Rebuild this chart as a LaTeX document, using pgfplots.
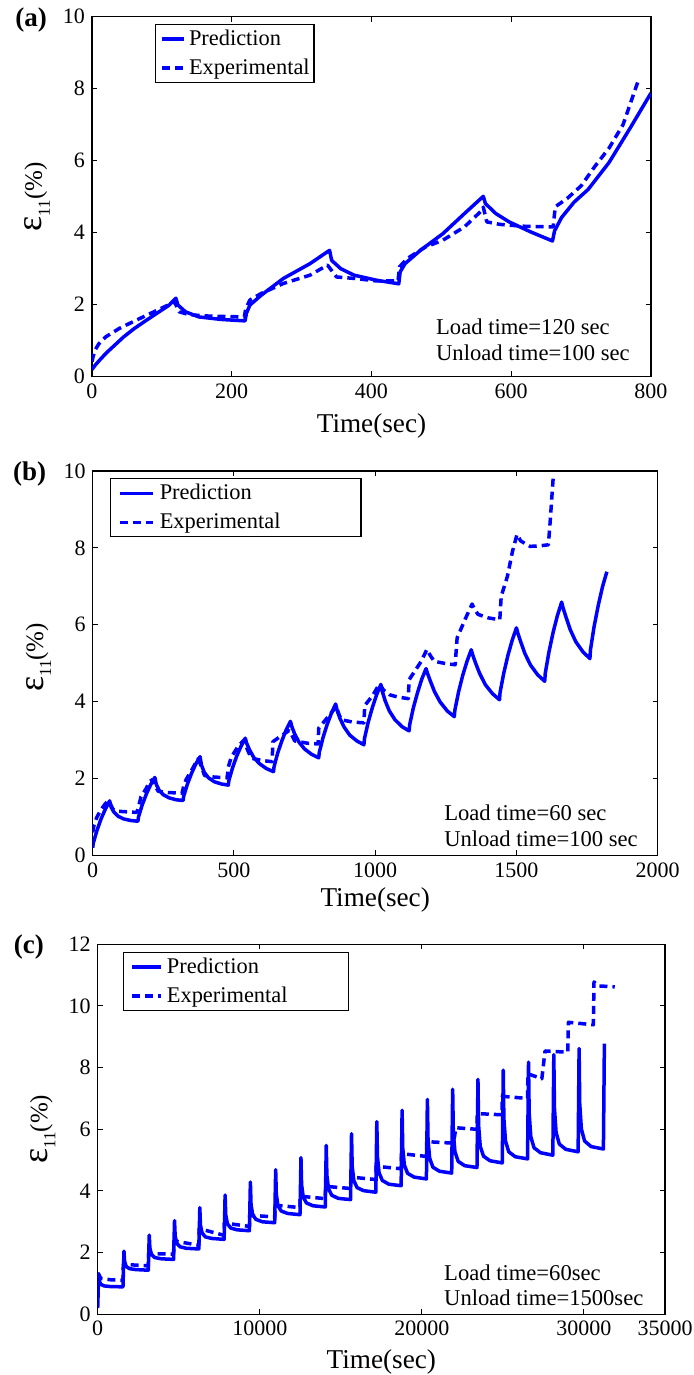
\documentclass[border=0pt]{standalone}
\usepackage{fontspec}
\setmainfont{Liberation Serif}
\usepackage{pgfplots}
\pgfplotsset{compat=1.18}
\definecolor{mblue}{RGB}{0,0,255}
\newcommand{\ylab}{{\fontsize{18}{18}\selectfont ε}\raisebox{-4pt}{\fontsize{8.5}{9}\selectfont 11}{\fontsize{12.5}{14}\selectfont(\%)}}
\tikzset{
  annot/.style={anchor=base west, inner sep=0pt, font=\fontsize{11.3}{13}\selectfont},
  pred/.style={mblue, line width=1.75pt, line join=round},
  expt/.style={mblue, line width=1.75pt, line join=round, dash pattern=on 4pt off 2.5pt},
}
\pgfplotsset{
  panel/.style={
    scale only axis, anchor=south west,
    axis line style={line width=0.6pt, black},
    tick align=inside,
    major tick length=2.6pt,
    every tick/.style={black, line width=0.5pt},
    tick label style={font=\fontsize{11}{13}\selectfont},
    /pgf/number format/assume math mode=true,
    /pgf/number format/1000 sep={},
    scaled x ticks=false, scaled y ticks=false,
    label style={font=\fontsize{13.6}{16}\selectfont},
    legend cell align=left,
    legend style={anchor=north west, draw=black, line width=0.6pt, fill=white,
      inner ysep=0pt, font=\fontsize{11.2}{13}\selectfont,
      nodes={inner sep=0pt, text height=10.4pt, text depth=4.1pt}},
  },
}
\begin{document}
\begin{tikzpicture}
\path[use as bounding box] (0pt,0pt) rectangle (347pt,687.5pt);

% ---------------- (a) ----------------
\begin{axis}[panel, at={(46pt,499.15pt)}, width=279.5pt, height=180pt,
  xmin=0, xmax=800, ymin=0, ymax=10,
  xtick={0,200,400,600,800}, ytick={0,2,4,6,8,10},
  xlabel={Time(sec)}, ylabel={\ylab},
  xlabel style={at={(axis description cs:0.5,0)}, anchor=center, yshift=-24.5pt},
  ylabel style={at={(axis description cs:-0.098,0.5)}, anchor=center},
  legend style={at={(axis description cs:0.1127,0.9797)}, inner xsep=2.15pt, column sep=1.8pt},
  legend image code/.code={\draw[#1] (0pt,0pt) -- (11pt,0pt);},
]
\addplot[pred] coordinates {
(0,0.2)(5,0.33)(10,0.44)(20,0.65)(30,0.83)(45,1.1)(60,1.33)(75,1.53)(95,1.79)(110,1.98)(120,2.18)
(123,1.99)(134,1.8)(153,1.66)(185,1.59)(219,1.55)
(221,1.76)(226,1.99)(242,2.26)(274,2.73)(312,3.14)(340,3.51)
(343,3.23)(356,3.0)(375,2.82)(407,2.68)(439,2.58)
(441,2.91)(448,3.14)(470,3.51)(502,3.97)(533,4.53)(560,5.01)
(563,4.81)(578,4.53)(597,4.3)(628,4.02)(659,3.77)
(662,4.05)(672,4.42)(690,4.85)(710,5.2)(740,5.95)(770,6.9)(800,7.88)
};
\addlegendentry{Prediction}
\addplot[expt] coordinates {
(0,0.42)(1.5,0.55)(4.4,0.74)(10,0.92)(20,1.11)(39,1.34)(58,1.52)(84,1.76)(109,1.99)(118,2.08)
(125,1.8)(140,1.72)(170,1.68)(218,1.66)
(220,1.89)(226,2.13)(242,2.31)(274,2.59)(312,2.82)(337,3.1)
(350,2.77)(375,2.73)(407,2.66)(438,2.66)
(440,3.05)(451,3.28)(477,3.6)(502,3.79)(533,4.16)(558,4.62)(560,4.71)
(565,4.3)(584,4.23)(616,4.18)(660,4.16)
(663,4.72)(680,4.95)(700,5.3)(720,5.85)(740,6.35)(760,7.0)(781,8.18)
};
\addlegendentry{Experimental}
\node[annot] at (axis cs:492,1.158) {Load time=120 sec};
\node[annot] at (axis cs:492,0.436) {Unload time=100 sec};
\end{axis}

% ---------------- (b) ----------------
\begin{axis}[panel, at={(46.35pt,259.75pt)}, width=282.5pt, height=192.25pt,
  xmin=0, xmax=2000, ymin=0, ymax=10,
  xtick={0,500,1000,1500,2000}, ytick={0,2,4,6,8,10},
  xlabel={Time(sec)}, ylabel={\ylab},
  xlabel style={at={(axis description cs:0.5,0)}, anchor=center, yshift=-22.2pt},
  ylabel style={at={(axis description cs:-0.096,0.515)}, anchor=center},
  legend style={at={(axis description cs:0.0306,0.981)}, inner xsep=3.65pt, column sep=2.7pt},
  legend image code/.code={\draw[#1] (0pt,0pt) -- (16.5pt,0pt);},
]
\addplot[pred] coordinates {
(0,0.2)(2,0.32)(15,0.65)(30,0.96)(45,1.21)(60,1.42)
(65,1.26)(75,1.13)(90,1.02)(110,0.95)(135,0.91)(160,0.89)
(162,1.00)(175,1.31)(190,1.60)(205,1.84)(220,2.03)
(225,1.85)(235,1.70)(250,1.58)(270,1.50)(295,1.45)(320,1.43)
(322,1.54)(335,1.85)(350,2.14)(365,2.38)(380,2.57)
(385,2.35)(395,2.16)(410,2.02)(430,1.92)(455,1.86)(480,1.83)
(482,1.95)(495,2.28)(510,2.59)(525,2.84)(540,3.05)
(545,2.92)(555,2.75)(570,2.55)(590,2.39)(615,2.26)(640,2.18)
(642,2.31)(655,2.67)(670,2.99)(685,3.27)(700,3.49)
(705,3.35)(715,3.16)(730,2.95)(750,2.77)(775,2.63)(800,2.54)
(802,2.68)(815,3.06)(830,3.41)(845,3.70)(860,3.94)
(865,3.78)(875,3.57)(890,3.34)(910,3.13)(935,2.98)(960,2.88)
(962,3.04)(975,3.46)(990,3.85)(1005,4.18)(1020,4.45)
(1025,4.27)(1035,4.03)(1050,3.76)(1070,3.53)(1095,3.35)(1120,3.24)
(1122,3.40)(1135,3.84)(1150,4.24)(1165,4.59)(1180,4.86)
(1185,4.74)(1195,4.54)(1210,4.26)(1230,3.99)(1255,3.76)(1280,3.61)
(1282,3.78)(1295,4.25)(1310,4.69)(1325,5.05)(1340,5.35)
(1345,5.22)(1355,5.01)(1370,4.73)(1390,4.44)(1415,4.21)(1440,4.05)
(1442,4.24)(1455,4.74)(1470,5.21)(1485,5.60)(1500,5.92)
(1505,5.78)(1515,5.56)(1530,5.25)(1550,4.95)(1575,4.70)(1600,4.53)
(1602,4.74)(1615,5.29)(1630,5.81)(1645,6.24)(1660,6.59)
(1665,6.44)(1675,6.21)(1690,5.88)(1710,5.56)(1735,5.30)(1760,5.12)
(1762,5.35)(1775,5.96)(1790,6.52)(1805,7.00)(1820,7.38)
};
\addlegendentry{\makebox[97pt][l]{Prediction}}
\addplot[expt] coordinates {
(0,0.6)(5,0.8)(15,1.0)(30,1.2)(45,1.35)(55,1.42)(62,1.35)(72,1.2)(90,1.15)(155,1.12)
(160,1.2)(171,1.53)(190,1.75)(201,1.92)(213,1.98)(222,1.8)(232,1.67)(260,1.64)(316,1.62)
(322,1.8)(331,1.98)(349,2.2)(372,2.51)(380,2.4)(396,2.08)(430,2.04)(476,2.02)
(480,2.3)(490,2.55)(514,2.83)(535,3.0)(545,2.8)(561,2.53)(600,2.47)(635,2.44)
(638,2.96)(665,3.1)(695,3.25)(700,3.2)(715,2.98)(760,2.92)(798,2.9)
(800,3.31)(830,3.58)(863,3.88)(870,3.7)(880,3.53)(920,3.47)(960,3.45)
(963,3.9)(990,4.15)(1015,4.46)(1030,4.3)(1051,4.18)(1080,4.12)(1117,4.08)
(1120,4.57)(1163,5.05)(1183,5.36)(1195,5.2)(1209,5.05)(1250,4.99)(1283,4.96)
(1290,5.66)(1323,6.22)(1343,6.54)(1352,6.4)(1364,6.27)(1400,6.18)(1441,6.13)
(1446,6.74)(1468,7.26)(1486,7.91)(1502,8.35)(1515,8.18)(1548,8.04)(1580,8.05)(1613,8.08)
(1619,8.65)(1630,9.82)
};
\addlegendentry{\makebox[97pt][l]{Experimental}}
\node[annot] at (axis cs:1243,0.905) {Load time=60 sec};
\node[annot] at (axis cs:1243,0.229) {Unload time=100 sec};
\end{axis}

% ---------------- (c) ----------------
\begin{axis}[panel, at={(48.85pt,30.35pt)}, width=283.65pt, height=185pt,
  xmin=0, xmax=35000, ymin=0, ymax=12,
  xtick={0,10000,20000,30000,35000}, ytick={0,2,4,6,8,10,12},
  xlabel={Time(sec)}, ylabel={\ylab},
  xlabel style={at={(axis description cs:0.5,0)}, anchor=center, yshift=-23.7pt},
  ylabel style={at={(axis description cs:-0.097,0.5)}, anchor=center},
  legend style={at={(axis description cs:0.0439,0.98)}, inner xsep=3.3pt, column sep=2.2pt},
  legend image code/.code={\draw[#1] (0pt,0pt) -- (14.6pt,0pt);},
]
\addplot[pred] coordinates {
(0,0.2)(60,1.30)(100,1.07)(200,0.97)(400,0.92)(800,0.90)(1560,0.89)
(1620,2.05)(1660,1.71)(1760,1.55)(1960,1.48)(2360,1.45)(3120,1.43)
(3180,2.57)(3220,2.14)(3320,1.94)(3520,1.84)(3920,1.80)(4680,1.78)
(4740,3.04)(4780,2.53)(4880,2.30)(5080,2.19)(5480,2.14)(6240,2.12)
(6300,3.46)(6340,2.89)(6440,2.64)(6640,2.51)(7040,2.46)(7800,2.43)
(7860,3.87)(7900,3.23)(8000,2.94)(8200,2.80)(8600,2.74)(9360,2.71)
(9420,4.29)(9460,3.56)(9560,3.23)(9760,3.08)(10160,3.00)(10920,2.97)
(10980,4.69)(11020,3.89)(11120,3.52)(11320,3.35)(11720,3.27)(12480,3.23)
(12540,5.08)(12580,4.20)(12680,3.80)(12880,3.61)(13280,3.52)(14040,3.48)
(14100,5.48)(14140,4.51)(14240,4.07)(14440,3.86)(14840,3.76)(15600,3.72)
(15660,5.86)(15700,4.82)(15800,4.34)(16000,4.11)(16400,4.01)(17160,3.96)
(17220,6.25)(17260,5.11)(17360,4.59)(17560,4.34)(17960,4.22)(18720,4.17)
(18780,6.62)(18820,5.39)(18920,4.84)(19120,4.57)(19520,4.45)(20280,4.39)
(20340,6.97)(20380,5.66)(20480,5.06)(20680,4.77)(21080,4.64)(21840,4.58)
(21900,7.30)(21940,5.90)(22040,5.27)(22240,4.96)(22640,4.82)(23400,4.76)
(23460,7.62)(23500,6.13)(23600,5.45)(23800,5.13)(24200,4.98)(24960,4.91)
(25020,7.92)(25060,6.34)(25160,5.62)(25360,5.27)(25760,5.11)(26520,5.04)
(26580,8.18)(26620,6.52)(26720,5.76)(26920,5.40)(27320,5.24)(28080,5.16)
(28140,8.42)(28180,6.69)(28280,5.90)(28480,5.52)(28880,5.35)(29640,5.27)
(29700,8.62)(29740,6.83)(29840,6.01)(30040,5.62)(30440,5.44)(31200,5.36)
(31260,8.78)
};
\addlegendentry{\makebox[87.4pt][l]{Prediction}}
\addplot[expt] coordinates {
(0,1.34)(60,1.3)(200,1.16)(800,1.12)(1560,1.10)
(1580,1.62)(3120,1.57)
(3140,1.97)(4680,1.95)
(4700,2.38)(6240,2.24)
(6260,2.78)(7800,2.56)
(7820,2.96)(9360,2.85)
(9380,3.21)(10920,3.16)
(10940,3.54)(12480,3.46)
(12500,3.83)(14040,3.75)
(14060,4.15)(15600,4.08)
(15620,4.45)(17160,4.37)
(17180,4.80)(18720,4.72)
(18740,5.21)(20280,5.12)
(20300,5.60)(21950,5.55)
(22100,6.05)(23400,6.00)
(23420,6.51)(24940,6.47)
(24960,7.07)(26520,7.00)
(26540,7.80)(27400,7.64)
(27600,8.54)(29000,8.50)
(29040,9.47)(30580,9.39)
(30620,10.78)(30900,10.65)(31900,10.62)
};
\addlegendentry{\makebox[87.4pt][l]{Experimental}}
\node[annot] at (axis cs:21353,1.11) {Load time=60sec};
\node[annot] at (axis cs:21353,0.27) {Unload time=1500sec};
\end{axis}

\node[font=\fontsize{13.5}{16}\selectfont\bfseries] at (15.5pt,677.5pt) {(a)};
\node[font=\fontsize{13.5}{16}\selectfont\bfseries] at (14.8pt,450.5pt) {(b)};
\node[font=\fontsize{13.5}{16}\selectfont\bfseries] at (14.4pt,213.75pt) {(c)};
\end{tikzpicture}
\end{document}
